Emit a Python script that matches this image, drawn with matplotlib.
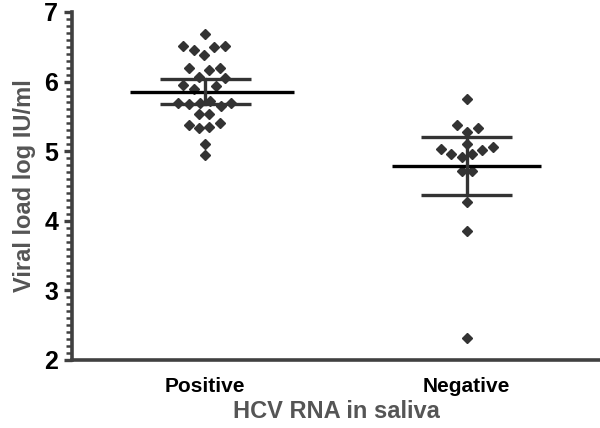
import matplotlib
matplotlib.use("Agg")
import matplotlib.pyplot as plt
from matplotlib.ticker import MultipleLocator
import numpy as np

categories = ["Positive", "Negative"]
positive_vals = [6.68, 6.51, 6.45, 6.38, 6.49, 6.51, 6.19, 6.17, 6.20, 6.07, 6.05,
                 5.95, 5.90, 5.93, 5.69, 5.68, 5.69, 5.72, 5.65, 5.69, 5.54, 5.54,
                 5.38, 5.33, 5.35, 5.41, 5.10, 4.95]
positive_x = [205, 183, 194, 204, 214, 225, 189, 209, 220, 199, 225,
              183, 194, 216, 178, 189, 200, 210, 221, 231, 199, 209,
              189, 199, 209, 220, 205, 205]
negative_vals = [5.75, 5.37, 5.33, 5.28, 5.11, 5.03, 4.96, 4.91, 4.96, 5.01, 5.06,
                 4.72, 4.72, 4.27, 3.86, 2.32]
negative_x = [466, 456, 477, 466, 466, 440, 450, 461, 471, 481, 492,
              461, 471, 466, 466, 466]
means = [5.85, 4.78]
err_low = [5.68, 4.37]
err_high = [6.03, 5.20]
yticks = [2, 3, 4, 5, 6, 7]

fig = plt.figure(figsize=(6.0, 4.28), dpi=100)
ax = fig.add_axes([0.12, 0.1589, 0.88, 0.8131])
ax.set_xlim(0.49, 2.51)
ax.set_ylim(2, 7)

ppu = 261.0
pos_jx = [1 + (px - 205) / ppu for px in positive_x]
neg_jx = [2 + (px - 466) / ppu for px in negative_x]

mc = "#333333"
ax.plot(pos_jx, positive_vals, linestyle="none", marker="D", ms=5.0, color=mc, zorder=3)
ax.plot(neg_jx, negative_vals, linestyle="none", marker="D", ms=5.0, color=mc, zorder=3)

mean_half = [(0.29, 0.34), (0.285, 0.285)]
cap_half = 0.173
for i, (m, lo, hi) in enumerate(zip(means, err_low, err_high)):
    xc = i + 1
    ax.plot([xc - mean_half[i][0], xc + mean_half[i][1]], [m, m], color="black", lw=2.4, zorder=4, solid_capstyle="butt")
    ax.plot([xc, xc], [lo, hi], color=mc, lw=2.4, zorder=4)
    ax.plot([xc - cap_half, xc + cap_half], [lo, lo], color=mc, lw=2.4, zorder=4, solid_capstyle="butt")
    ax.plot([xc - cap_half, xc + cap_half], [hi, hi], color=mc, lw=2.4, zorder=4, solid_capstyle="butt")

for s in ["top", "right"]:
    ax.spines[s].set_visible(False)
for s in ["left", "bottom"]:
    ax.spines[s].set_color("#404040")
    ax.spines[s].set_linewidth(2.6)

ax.set_yticks(yticks)
ax.set_yticklabels([str(t) for t in yticks], fontsize=18, fontweight="bold", family="Liberation Sans")
ax.yaxis.set_minor_locator(MultipleLocator(0.1))
ax.tick_params(axis="y", which="major", length=6, width=2.4, color="#404040", pad=4)
ax.tick_params(axis="y", which="minor", length=4, width=1.8, color="#404040")
ax.set_xticks([1, 2])
ax.set_xticklabels(categories, fontsize=15, fontweight="bold", family="Liberation Sans")
ax.tick_params(axis="x", which="both", length=0, pad=12)

ax.set_ylabel("Viral load log IU/ml", fontsize=17, fontweight="bold", color="#555555",
              family="Liberation Sans", labelpad=6)
ax.set_xlabel("HCV RNA in saliva", fontsize=17, fontweight="bold", color="#555555",
              family="Liberation Sans", labelpad=3)

fig.savefig("out.png", dpi=100)
